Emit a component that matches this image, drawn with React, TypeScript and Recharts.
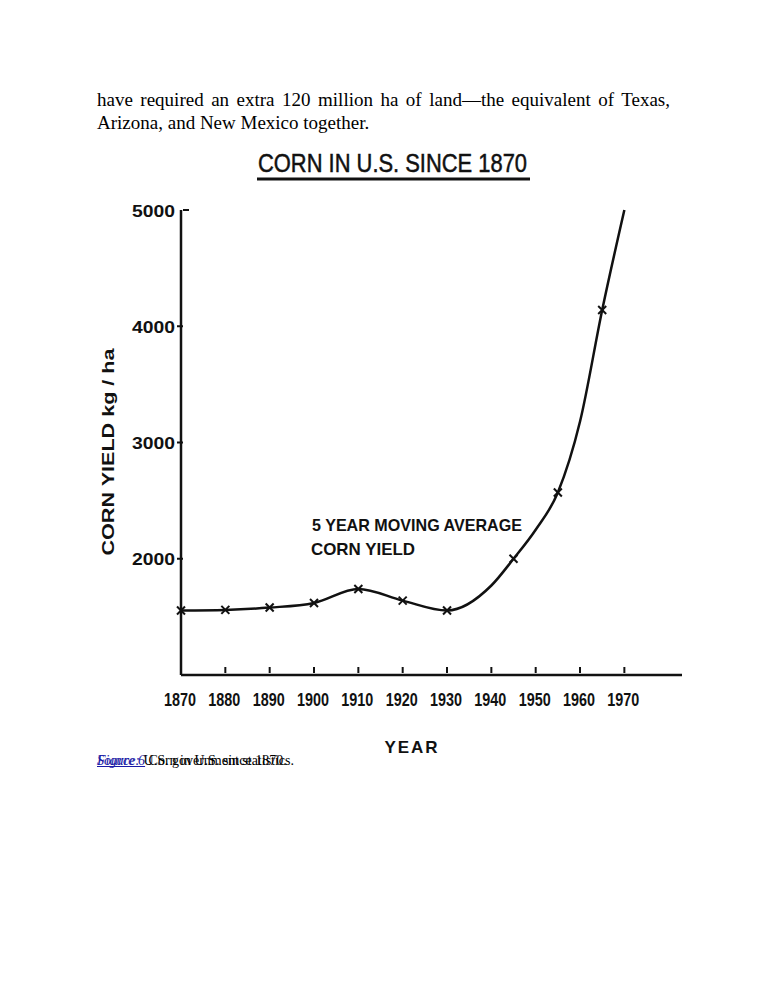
import React from "react";
import { LineChart, Line, XAxis, YAxis } from "recharts";

// 5-year moving average corn yield, kg/ha
const years = [1870, 1880, 1890, 1900, 1910, 1920, 1930, 1940, 1945, 1950, 1955, 1960, 1965, 1970];
const yields = [1555, 1560, 1580, 1620, 1740, 1640, 1555, 1770, 2000, 2250, 2570, 3180, 4140, 5000];
// years that carry an "x" marker on the original drawing
const markedYears = [1870, 1880, 1890, 1900, 1910, 1920, 1930, 1945, 1955, 1965];

const xTicks = [1870, 1880, 1890, 1900, 1910, 1920, 1930, 1940, 1950, 1960, 1970];
const yTicks = [2000, 3000, 4000, 5000];

const data = years.map((year, i) => ({ year, value: yields[i] }));

const INK = "#111";
const SANS = "'Liberation Sans', Arial, sans-serif";
const SERIF = "'Liberation Serif', 'Times New Roman', serif";

function CrossDot(props: any) {
  const { cx, cy, payload } = props;
  if (!markedYears.includes(payload.year)) return null;
  const r = 4;
  return (
    <g stroke={INK} strokeWidth={2}>
      <line x1={cx - r} y1={cy - r} x2={cx + r} y2={cy + r} />
      <line x1={cx - r} y1={cy + r} x2={cx + r} y2={cy - r} />
    </g>
  );
}

function YTick(props: any) {
  const { x, y, payload } = props;
  const axisX = x + 8;
  const top = payload.value === 5000;
  return (
    <g>
      {top ? (
        <line x1={axisX} y1={y} x2={axisX + 6} y2={y} stroke={INK} strokeWidth={2} />
      ) : (
        <line x1={axisX - 6} y1={y} x2={axisX} y2={y} stroke={INK} strokeWidth={2} />
      )}
      <text
        x={axisX - 8}
        y={y + 1}
        textAnchor="end"
        dominantBaseline="central"
        textLength={43}
        lengthAdjust="spacingAndGlyphs"
        fontFamily={SANS}
        fontWeight="bold"
        fontSize={17}
        fill={INK}
      >
        {payload.value}
      </text>
    </g>
  );
}

function XTick(props: any) {
  const { x, y, payload } = props;
  const axisY = y - 8;
  return (
    <g>
      {payload.value !== 1870 && (
        <line x1={x} y1={axisY} x2={x} y2={axisY - 6} stroke={INK} strokeWidth={2} />
      )}
      <text
        x={x - 1}
        y={axisY + 27}
        textAnchor="middle"
        dominantBaseline="central"
        textLength={32}
        lengthAdjust="spacingAndGlyphs"
        fontFamily={SANS}
        fontWeight="bold"
        fontSize={18}
        fill={INK}
      >
        {payload.value}
      </text>
    </g>
  );
}

export default function App() {
  return (
    <div style={{ position: "absolute", left: 0, top: 0, width: 772, height: 1000, background: "#fff" }}>
      <div
        style={{
          position: "absolute",
          left: 97,
          top: 88,
          width: 573,
          fontFamily: SERIF,
          fontSize: 19,
          lineHeight: "23px",
          textAlign: "justify",
          color: "#000",
        }}
      >
        have required an extra 120 million ha of land—the equivalent of Texas, Arizona, and New Mexico
        together.
      </div>

      <LineChart
        width={772}
        height={1000}
        data={data}
        margin={{ top: 210, right: 90, bottom: 295, left: 121 }}
        style={{ position: "absolute", left: 0, top: 0 }}
      >
        <XAxis
          dataKey="year"
          type="number"
          domain={[1870, 1983]}
          ticks={xTicks}
          height={30}
          axisLine={{ stroke: INK, strokeWidth: 2.5 }}
          tickLine={false}
          tick={<XTick />}
          tickMargin={0}
          interval={0}
        />
        <YAxis
          type="number"
          domain={[1000, 5000]}
          ticks={yTicks}
          width={60}
          axisLine={{ stroke: INK, strokeWidth: 2.5 }}
          tickLine={false}
          tick={<YTick />}
          tickMargin={0}
          interval={0}
        />
        <Line
          type="monotone"
          dataKey="value"
          stroke={INK}
          strokeWidth={2.5}
          dot={<CrossDot />}
          activeDot={false}
          isAnimationActive={false}
        />
      </LineChart>

      <svg width={772} height={1000} style={{ position: "absolute", left: 0, top: 0, pointerEvents: "none" }}>
        <text
          x={258}
          y={172}
          textLength={269}
          lengthAdjust="spacingAndGlyphs"
          fontFamily={SANS}
          fontSize={26}
          fill={INK}
          stroke={INK}
          strokeWidth={0.5}
        >
          CORN IN U.S. SINCE 1870
        </text>
        <line x1={257} y1={179} x2={530} y2={179} stroke={INK} strokeWidth={3} />

        <text
          transform="translate(114, 452) rotate(-90)"
          textAnchor="middle"
          textLength={207}
          lengthAdjust="spacingAndGlyphs"
          fontFamily={SANS}
          fontWeight="bold"
          fontSize={17}
          fill={INK}
        >
          CORN  YIELD  kg / ha
        </text>

        <text
          x={312}
          y={531}
          textLength={210}
          lengthAdjust="spacingAndGlyphs"
          fontFamily={SANS}
          fontWeight="bold"
          fontSize={17}
          fill={INK}
        >
          5 YEAR MOVING AVERAGE
        </text>
        <text
          x={311}
          y={555}
          textLength={104}
          lengthAdjust="spacingAndGlyphs"
          fontFamily={SANS}
          fontWeight="bold"
          fontSize={17}
          fill={INK}
        >
          CORN YIELD
        </text>

        <text
          x={412}
          y={753}
          textAnchor="middle"
          fontFamily={SANS}
          fontWeight="bold"
          fontSize={17}
          letterSpacing={2}
          fill={INK}
        >
          YEAR
        </text>
      </svg>

      <div style={{ position: "absolute", left: 97, top: 753, fontFamily: SERIF, fontSize: 14, whiteSpace: "nowrap" }}>
        <span style={{ color: "#1a1aa6", fontStyle: "italic", textDecoration: "underline" }}>Figure 6</span> Corn in U.S.
        since 1870.
      </div>
      <div style={{ position: "absolute", left: 97, top: 753, fontFamily: SERIF, fontSize: 14, whiteSpace: "nowrap" }}>
        <span style={{ color: "#1a1aa6", fontStyle: "italic", textDecoration: "underline" }}>Source:</span> U.S.
        government statistics.
      </div>
    </div>
  );
}
